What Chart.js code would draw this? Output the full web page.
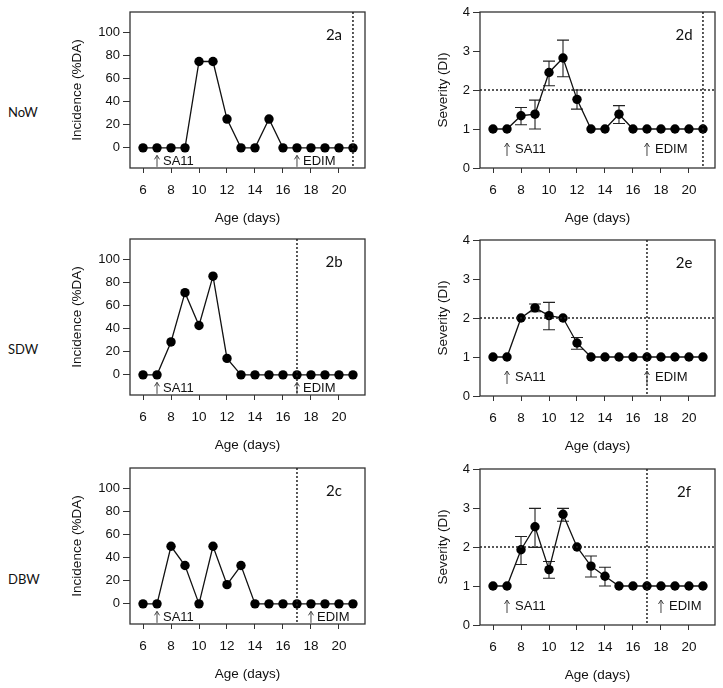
<!DOCTYPE html>
<html>
<head>
<meta charset="utf-8">
<script src="https://cdn.jsdelivr.net/npm/chart.js@4.4.1/dist/chart.umd.min.js"></script>
<style>
  body { margin: 0; background: #fff; width: 723px; height: 688px; position: relative; overflow: hidden; }
  canvas { position: absolute; }
  .row-label { position: absolute; font: 13px Lato, "Open Sans", sans-serif; color: #111; }
</style>
</head>
<body>
<div class="row-label" style="left:8px;top:104px">NoW</div>
<div class="row-label" style="left:8px;top:341px">SDW</div>
<div class="row-label" style="left:8px;top:571px">DBW</div>

<canvas id="p2a" width="340" height="230" style="left:40px;top:0px"></canvas>
<canvas id="p2b" width="340" height="230" style="left:40px;top:227px"></canvas>
<canvas id="p2c" width="340" height="230" style="left:40px;top:456px"></canvas>
<canvas id="p2d" width="323" height="230" style="left:400px;top:0px"></canvas>
<canvas id="p2e" width="323" height="230" style="left:400px;top:228px"></canvas>
<canvas id="p2f" width="323" height="230" style="left:400px;top:457px"></canvas>

<script>
// ages (days) for every point
const days = [6, 7, 8, 9, 10, 11, 12, 13, 14, 15, 16, 17, 18, 19, 20, 21];
const dayTicks = [6, 8, 10, 12, 14, 16, 18, 20];

// incidence (%DA)
const incidenceNoW = [0, 0, 0, 0, 75, 75, 25, 0, 0, 25, 0, 0, 0, 0, 0, 0];
const incidenceSDW = [0, 0, 28.6, 71.4, 42.9, 85.7, 14.3, 0, 0, 0, 0, 0, 0, 0, 0, 0];
const incidenceDBW = [0, 0, 50, 33.3, 0, 50, 16.7, 33.3, 0, 0, 0, 0, 0, 0, 0, 0];
const incidenceTicks = [0, 20, 40, 60, 80, 100];

// severity (DI) with error bar ends
const severityNoW     = [1, 1, 1.34, 1.38, 2.45, 2.82, 1.76, 1, 1, 1.38, 1, 1, 1, 1, 1, 1];
const severityNoWLow  = [null, null, 1.11, 1.0, 2.11, 2.34, 1.51, null, null, 1.14, null, null, null, null, null, null];
const severityNoWHigh = [null, null, 1.55, 1.74, 2.74, 3.28, 2.0, null, null, 1.6, null, null, null, null, null, null];
const severitySDW     = [1, 1, 2, 2.26, 2.06, 2, 1.36, 1, 1, 1, 1, 1, 1, 1, 1, 1];
const severitySDWLow  = [null, null, null, 2.16, 1.7, null, 1.2, null, null, null, null, null, null, null, null, null];
const severitySDWHigh = [null, null, null, 2.36, 2.4, null, 1.5, null, null, null, null, null, null, null, null, null];
const severityDBW     = [1, 1, 1.93, 2.52, 1.42, 2.84, 2, 1.51, 1.25, 1, 1, 1, 1, 1, 1, 1];
const severityDBWLow  = [null, null, 1.55, 1.99, 1.2, 2.66, null, 1.23, 1.0, null, null, null, null, null, null, null];
const severityDBWHigh = [null, null, 2.27, 2.99, 1.63, 2.99, null, 1.77, 1.48, null, null, null, null, null, null, null];
const severityTicks = [0, 1, 2, 3, 4];

// markers: dotted line day, inoculation arrows
const switchDays = [21, 17, 17];
const sa11Days = [7, 7, 7];
const edimDays = [17, 17, 18];

Chart.defaults.font.family = '"Liberation Sans", Arial, sans-serif';
Chart.defaults.font.size = 13;
Chart.defaults.color = '#111';

const decorPlugin = {
    id: 'decor',
    beforeDatasetsDraw(chart, args, opts) {
        const {ctx, scales: {x, y}} = chart;
        // error bars
        if (opts.low) {
            ctx.save();
            ctx.strokeStyle = '#222';
            ctx.lineWidth = 1.1;
            opts.low.forEach((lo, i) => {
                if (lo === null) return;
                const px = x.getPixelForValue(days[i]);
                const y1 = y.getPixelForValue(lo);
                const y2 = y.getPixelForValue(opts.high[i]);
                ctx.beginPath();
                ctx.moveTo(px, y1); ctx.lineTo(px, y2);
                ctx.moveTo(px - 6, y1); ctx.lineTo(px + 6, y1);
                ctx.moveTo(px - 6, y2); ctx.lineTo(px + 6, y2);
                ctx.stroke();
            });
            ctx.restore();
        }
    },
    afterDatasetsDraw(chart, args, opts) {
        const {ctx, chartArea: a, scales: {x, y}} = chart;
        ctx.save();
        // frame
        ctx.strokeStyle = '#333';
        ctx.lineWidth = 1.3;
        ctx.strokeRect(a.left, a.top, a.right - a.left, a.bottom - a.top);

        // dotted lines
        ctx.setLineDash([2, 2]);
        ctx.lineWidth = 1.5;
        ctx.strokeStyle = '#222';
        const vx = x.getPixelForValue(opts.switchDay);
        ctx.beginPath();
        ctx.moveTo(vx, a.top); ctx.lineTo(vx, a.bottom);
        if (opts.hLine !== undefined) {
            const hy = y.getPixelForValue(opts.hLine);
            ctx.moveTo(a.left, hy); ctx.lineTo(a.right, hy);
        }
        ctx.stroke();
        ctx.setLineDash([]);

        // arrows + virus labels
        const base = y.getPixelForValue(opts.base);
        [[opts.sa11, 'SA11'], [opts.edim, 'EDIM']].forEach(([d, txt]) => {
            const px = x.getPixelForValue(d);
            const t = base + opts.arrowTop, b = base + opts.arrowBottom;
            ctx.strokeStyle = '#444';
            ctx.lineWidth = 1;
            ctx.beginPath();
            ctx.moveTo(px, b); ctx.lineTo(px, t);
            ctx.moveTo(px - 2.5, t + 4); ctx.lineTo(px, t); ctx.lineTo(px + 2.5, t + 4);
            ctx.stroke();
            ctx.fillStyle = '#111';
            ctx.font = '13px "Liberation Sans", Arial, sans-serif';
            ctx.textAlign = 'left';
            ctx.textBaseline = 'middle';
            ctx.fillText(txt, px + opts.textGap, base + opts.textOffset);
        });

        // panel name
        ctx.font = '15px Lato, "Open Sans", sans-serif';
        ctx.textAlign = 'center';
        ctx.textBaseline = 'middle';
        ctx.fillText(opts.name, a.right - 31, a.top + 23);
        ctx.restore();
    }
};

function makePanel(id, name, values, kind, row, low, high) {
    const incidence = kind === 'incidence';
    const ticks = incidence ? incidenceTicks : severityTicks;
    return new Chart(document.getElementById(id), {
        type: 'line',
        data: {
            datasets: [{
                data: days.map((d, i) => ({x: d, y: values[i]})),
                borderColor: '#111',
                borderWidth: 1.3,
                backgroundColor: '#000',
                pointBackgroundColor: '#000',
                pointBorderWidth: 0,
                pointRadius: 4.7,
                tension: 0,
                clip: false
            }]
        },
        options: {
            responsive: false,
            animation: false,
            devicePixelRatio: 1,
            layout: {padding: {top: 12, right: incidence ? 15 : 8, left: 0, bottom: 0}},
            plugins: {
                legend: {display: false},
                tooltip: {enabled: false},
                decor: {
                    name: name,
                    switchDay: switchDays[row],
                    sa11: sa11Days[row],
                    edim: edimDays[row],
                    hLine: incidence ? undefined : 2,
                    base: incidence ? 0 : 1,
                    arrowTop: incidence ? 7.5 : 14,
                    arrowBottom: incidence ? 19 : 27,
                    textOffset: incidence ? 14 : 20.5,
                    textGap: incidence ? 6 : 8,
                    low: low,
                    high: high
                }
            },
            scales: {
                x: {
                    type: 'linear',
                    min: 5.07,
                    max: 21.86,
                    afterBuildTicks: s => { s.ticks = dayTicks.map(v => ({value: v})); },
                    afterFit: s => { s.height = 62; },
                    ticks: {padding: 9, maxRotation: 0, autoSkip: false, color: '#111', font: {size: 13.5}},
                    grid: {drawOnChartArea: false, tickLength: 5, color: '#333'},
                    border: {display: false},
                    title: {display: true, text: 'Age (days)', color: '#111', font: {size: 13.5}, padding: {top: 0, bottom: 4}}
                },
                y: {
                    min: incidence ? -17.5 : 0,
                    max: incidence ? 118 : 4,
                    afterBuildTicks: s => { s.ticks = ticks.map(v => ({value: v})); },
                    afterFit: s => { s.width = incidence ? 90 : 80; },
                    ticks: {padding: 3, color: '#111', font: {size: 13}},
                    grid: {drawOnChartArea: false, tickLength: 7, color: '#333'},
                    border: {display: false},
                    title: {
                        display: true,
                        text: incidence ? 'Incidence (%DA)' : 'Severity (DI)',
                        color: '#111',
                        font: {size: 13.5},
                        padding: {top: incidence ? 29 : 35, bottom: 0}
                    }
                }
            }
        },
        plugins: [decorPlugin]
    });
}

makePanel('p2a', '2a', incidenceNoW, 'incidence', 0);
makePanel('p2b', '2b', incidenceSDW, 'incidence', 1);
makePanel('p2c', '2c', incidenceDBW, 'incidence', 2);
makePanel('p2d', '2d', severityNoW, 'severity', 0, severityNoWLow, severityNoWHigh);
makePanel('p2e', '2e', severitySDW, 'severity', 1, severitySDWLow, severitySDWHigh);
makePanel('p2f', '2f', severityDBW, 'severity', 2, severityDBWLow, severityDBWHigh);
</script>
</body>
</html>
